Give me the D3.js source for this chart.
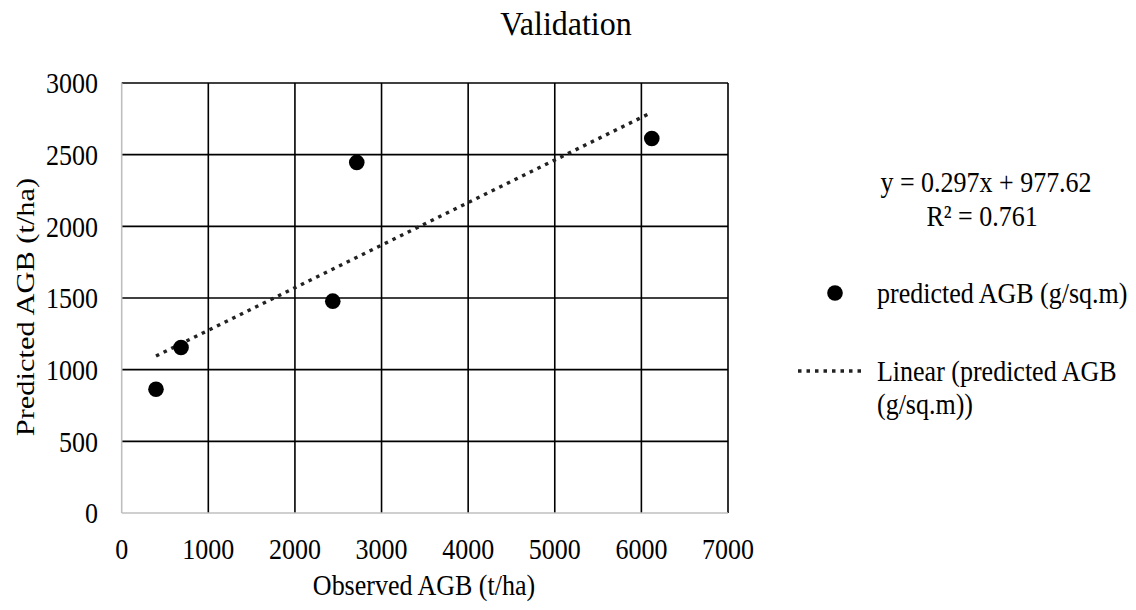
<!DOCTYPE html>
<html>
<head>
<meta charset="utf-8">
<script src="https://cdn.jsdelivr.net/npm/d3@7"></script>
<style>
  html, body { margin: 0; padding: 0; background: #fff; }
  svg { display: block; }
  text { font-family: "Liberation Serif", "Times New Roman", serif; fill: #000; }
</style>
</head>
<body>
<svg id="chart" width="1136" height="610"></svg>
<script>
// ---- data ----
const observedAGB = [396, 685, 2437, 2714, 6120];
const predictedAGB = [863, 1155, 1478, 2446, 2613];
const xTicks = [0, 1000, 2000, 3000, 4000, 5000, 6000, 7000];
const yTicks = [0, 500, 1000, 1500, 2000, 2500, 3000];
const trendSlope = 0.297;
const trendIntercept = 977.62;
const titleText = "Validation";
const xLabel = "Observed AGB (t/ha)";
const yLabel = "Predicted AGB (t/ha)";
const eqLines = ["y = 0.297x + 977.62", "R\u00B2 = 0.761"];
const seriesName = "predicted AGB (g/sq.m)";
const trendNameLines = ["Linear (predicted AGB", "(g/sq.m))"];

// ---- layout ----
const SY = 1.17; // vertical stretch of text
const FS = 26;
const svg = d3.select("#chart");
const x = d3.scaleLinear().domain([0, 7000]).range([121.7, 728]);
const y = d3.scaleLinear().domain([0, 3000]).range([513, 83]);

// gridlines
const grid = svg.append("g");
grid.selectAll("line.v").data(xTicks.filter(d => d > 0)).enter().append("line")
  .attr("x1", d => x(d)).attr("x2", d => x(d))
  .attr("y1", y(0)).attr("y2", y(3000))
  .attr("stroke", "#000").attr("stroke-width", 1.6);
grid.selectAll("line.h").data(yTicks.filter(d => d > 0)).enter().append("line")
  .attr("x1", x(0)).attr("x2", x(7000))
  .attr("y1", d => y(d)).attr("y2", d => y(d))
  .attr("stroke", "#000").attr("stroke-width", 1.6);

// axes lines (gray)
svg.append("line").attr("x1", x(0)).attr("x2", x(0)).attr("y1", y(0)).attr("y2", y(3000))
  .attr("stroke", "#bfbfbf").attr("stroke-width", 1.6);
svg.append("line").attr("x1", x(0)).attr("x2", x(7000)).attr("y1", y(0)).attr("y2", y(0))
  .attr("stroke", "#bfbfbf").attr("stroke-width", 1.6);

// tick labels
const tl = svg.append("g");
yTicks.forEach(d => {
  tl.append("text")
    .attr("transform", `translate(98,${y(d)}) scale(1,${SY})`)
    .attr("text-anchor", "end").attr("dy", "0.34em")
    .attr("font-size", FS).text(d);
});
xTicks.forEach(d => {
  tl.append("text")
    .attr("transform", `translate(${x(d)},${549}) scale(1,${SY})`)
    .attr("text-anchor", "middle").attr("dy", "0.34em")
    .attr("font-size", FS).text(d);
});

// axis titles
svg.append("text")
  .attr("transform", `translate(424,585) scale(1,${SY})`)
  .attr("text-anchor", "middle").attr("dy", "0.34em")
  .attr("font-size", FS).text(xLabel);
svg.append("text")
  .attr("transform", `translate(25,307) rotate(-90) scale(${SY},1)`)
  .attr("text-anchor", "middle").attr("dy", "0.34em")
  .attr("font-size", FS).text(yLabel);

// title
svg.append("text")
  .attr("transform", `translate(566,35) scale(1,1.05)`)
  .attr("text-anchor", "middle")
  .attr("font-size", 32).text(titleText);

// trendline
const xMin = d3.min(observedAGB), xMax = d3.max(observedAGB);
svg.append("line")
  .attr("x1", x(xMin)).attr("y1", y(trendSlope * xMin + trendIntercept))
  .attr("x2", x(xMax)).attr("y2", y(trendSlope * xMax + trendIntercept))
  .attr("stroke", "#222").attr("stroke-width", 3.5)
  .attr("stroke-dasharray", "3.5,5");

// points
svg.selectAll("circle.pt").data(observedAGB).enter().append("circle")
  .attr("cx", d => x(d)).attr("cy", (d, i) => y(predictedAGB[i]))
  .attr("r", 7.8).attr("fill", "#000");

// equation
svg.append("text").attr("transform", `translate(986,192) scale(1,${SY})`)
  .attr("text-anchor", "middle").attr("font-size", FS).text(eqLines[0]);
svg.append("text").attr("transform", `translate(982,226) scale(1,${SY})`)
  .attr("text-anchor", "middle").attr("font-size", FS).text(eqLines[1]);

// legend
svg.append("circle").attr("cx", 835).attr("cy", 293).attr("r", 7.8).attr("fill", "#000");
svg.append("text").attr("transform", `translate(877,293) scale(1,${SY})`)
  .attr("dy", "0.34em").attr("font-size", FS).text(seriesName);
svg.append("line").attr("x1", 798).attr("x2", 866).attr("y1", 371).attr("y2", 371)
  .attr("stroke", "#222").attr("stroke-width", 3.5).attr("stroke-dasharray", "3.5,5");
svg.append("text").attr("transform", `translate(877,371) scale(1,${SY})`)
  .attr("dy", "0.34em").attr("font-size", FS).text(trendNameLines[0]);
svg.append("text").attr("transform", `translate(877,404) scale(1,${SY})`)
  .attr("dy", "0.34em").attr("font-size", FS).text(trendNameLines[1]);
</script>
</body>
</html>
